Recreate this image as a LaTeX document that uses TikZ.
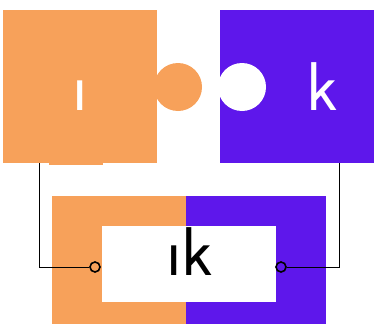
\documentclass[tikz,border=0pt]{standalone}
\usepackage{fontspec}
\usepackage{tikz}
\usetikzlibrary{positioning,calc}
\definecolor{tileOrange}{HTML}{F7A15A}
\definecolor{tilePurple}{HTML}{5E17EB}
\tikzset{
  tile/.style={draw=none, inner sep=0pt, outer sep=0pt},
  knob/.style={circle, draw=none, minimum size=48pt, inner sep=0pt},
  glyph/.style={font=\sffamily\fontsize{69}{69}\selectfont, inner sep=0pt, anchor=base},
  terminal/.style={circle, draw=black, line width=1.6pt, minimum size=10pt, inner sep=0pt},
  wire/.style={draw=black, line width=0.9pt},
}
\begin{document}
\begin{tikzpicture}[x=1pt,y=-1pt]
  \useasboundingbox (0,0) rectangle (374,324);

  % upper tiles
  \node[tile, fill=tileOrange, minimum width=154pt, minimum height=153pt] (leftsq) at (80,86.5) {};
  \fill[tileOrange] (49,163) rectangle (103,165);
  \node[knob, fill=tileOrange] (bump) at (178,87) {};
  \node[tile, fill=tilePurple, minimum width=154pt, minimum height=153pt] (rightsq) at (297,86.5) {};
  \node[knob, fill=white] (socket) at (242,87) {};

  \node[glyph, text=white] (ltr) at (80,110) {ı};
  \node[glyph, text=white] (rtr) at (322,110) {k};

  % joined tile
  \node[tile, fill=tileOrange, minimum width=134pt, minimum height=128pt] (lowL) at (119,260) {};
  \node[tile, fill=tilePurple, minimum width=140pt, minimum height=128pt] (lowR) at (256,260) {};
  \node[tile, fill=white, minimum width=174pt, minimum height=76pt] (word) at (189,264) {};
  \node[glyph, text=black] (pair) at (190,275) {ık};

  % wires
  \coordinate (tapL) at (39,163);
  \coordinate (tapR) at (339,163);
  \node[terminal] (termL) at (95,267) {};
  \node[terminal] (termR) at (281,267) {};
  \draw[wire] (tapL) |- (termL);
  \draw[wire] (tapR) |- (termR);
\end{tikzpicture}
\end{document}
